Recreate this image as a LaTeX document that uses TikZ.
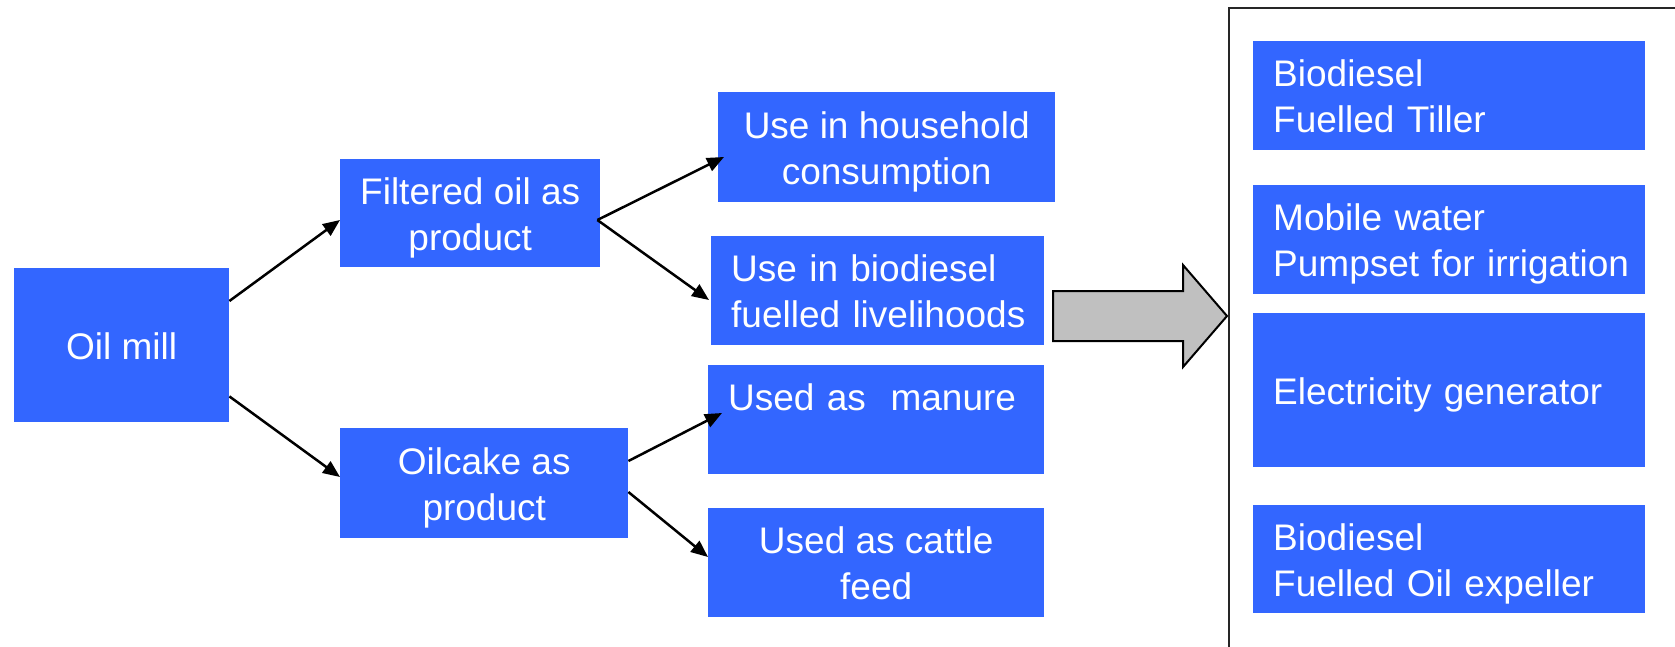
\documentclass[tikz,border=0pt]{standalone}
\usepackage{fontspec}
\setmainfont{Liberation Sans}
\usetikzlibrary{arrows.meta}
\definecolor{boxblue}{HTML}{3366FF}
\definecolor{arrowgray}{HTML}{C0C0C0}
\newcommand\mycblock[1]{\raisebox{-5pt}[\height][\depth]{\begin{tabular}{@{}c@{}}#1\end{tabular}}}
\newcommand\mylblock[1]{\raisebox{-5pt}[\height][\depth]{\begin{tabular}{@{}l@{}}#1\end{tabular}}}
\tikzset{
  bx/.style={fill=boxblue, text=white, inner sep=0pt, anchor=north west,
    font=\fontsize{37}{46}\selectfont, align=center},
  lbx/.style={bx, align=left, inner xsep=20pt},
  conn/.style={line width=2.5pt, -{Triangle[length=17pt,width=14pt]}},
}
\begin{document}
\begin{tikzpicture}[x=1pt,y=-1pt]
\useasboundingbox (0,0) rectangle (1675,646);
\clip (0,0) rectangle (1675,646);
% left column
\node[bx, minimum width=215pt, minimum height=154pt] (mill) at (14,268) {\mycblock{Oil mill}};
\node[bx, minimum width=260pt, minimum height=108pt] (filt) at (340,159) {\mycblock{Filtered oil as\\product}};
\node[bx, minimum width=288pt, minimum height=110pt] (cake) at (340,428) {\mycblock{Oilcake as\\product}};
% middle column
\node[bx, minimum width=337pt, minimum height=110pt] (house) at (718,92) {\mycblock{Use in household\\consumption}};
\node[lbx, text width=293pt, minimum width=333pt, minimum height=109pt] (biouse) at (711,236) {\mylblock{Use in biodiesel\\fuelled livelihoods}};
\node[lbx, text width=296pt, minimum width=336pt, minimum height=109pt] (manure) at (708,365) {\mylblock{Used as\ \ manure\\\mbox{}}};
\node[bx, minimum width=336pt, minimum height=109pt] (cattle) at (708,508) {\mycblock{Used as cattle\\feed}};
% right column
\node[lbx, text width=352pt, minimum width=392pt, minimum height=109pt] (tiller) at (1253,41) {\mylblock{Biodiesel\\Fuelled Tiller}};
\node[lbx, text width=352pt, minimum width=392pt, minimum height=109pt] (pump) at (1253,185) {\mylblock{Mobile water\\Pumpset for irrigation}};
\node[lbx, text width=352pt, minimum width=392pt, minimum height=154pt] (elec) at (1253,313) {\mylblock{Electricity generator}};
\node[lbx, text width=352pt, minimum width=392pt, minimum height=108pt] (expel) at (1253,505) {\mylblock{Biodiesel\\Fuelled Oil expeller}};
% frame around right column
\draw[line width=2pt, black!85] (1229,700) -- (1229,8) -- (1720,8);
% connectors
\draw[conn] ([yshift=-33pt]mill.north east) -- ([yshift=-61pt]filt.north west);
\draw[conn] ([yshift=26pt]mill.south east) -- ([yshift=-49pt]cake.north west);
\draw[conn] ([xshift=-3pt,yshift=-61pt]filt.north east) -- ([xshift=6pt,yshift=-65pt]house.north west);
\draw[conn] ([xshift=-3pt,yshift=-61pt]filt.north east) -- ([xshift=-2pt,yshift=-64pt]biouse.north west);
\draw[conn] ([yshift=-33pt]cake.north east) -- ([xshift=14pt,yshift=-48pt]manure.north west);
\draw[conn] ([yshift=-64pt]cake.north east) -- ([yshift=-49pt]cattle.north west);
% block arrow
\draw[fill=arrowgray, line width=2pt, line join=miter]
  (1053,291) -- (1183,291) -- (1183,265) -- (1227,316) -- (1183,367) -- (1183,341) -- (1053,341) -- cycle;
\end{tikzpicture}
\end{document}
